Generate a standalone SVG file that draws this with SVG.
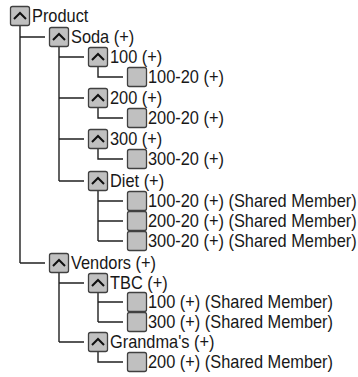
<svg xmlns="http://www.w3.org/2000/svg" width="358" height="377" viewBox="0 0 358 377">
<defs>
<style>
.bg{fill:#ffffff}
.ex{fill:#c0c0c0;stroke:#404040;stroke-width:1.3}
.lf{fill:#c0c0c0;stroke:#404040;stroke-width:1.3}
.chev{fill:none;stroke:#101010;stroke-width:2}
.ln{fill:none;stroke:#202020;stroke-width:1.4}
text{font-family:"Liberation Sans",Arial,sans-serif;font-size:18px;fill:#181818;dominant-baseline:central;transform-box:fill-box;transform-origin:0 50%;transform:scaleX(0.91)}
</style>
<g id="expander">
<rect class="ex" x="0.5" y="0.5" width="19" height="19" rx="2"/>
<polyline class="chev" points="4,13 10,7 16,13"/>
</g>
<rect id="leafbox" class="lf" x="0.5" y="0.5" width="19" height="19" rx="2"/>
</defs>
<rect class="bg" x="0" y="0" width="358" height="377"/>
<g id="connectors">
<path class="ln" d="M20,26 V263 M20,37 H45 M20,263 H45"/>
<path class="ln" d="M59,47 V181 M59,57 H84 M59,98 H84 M59,139 H84 M59,181 H84"/>
<path class="ln" d="M98,67 V77 H123"/>
<path class="ln" d="M98,108 V118 H123"/>
<path class="ln" d="M98,149 V159 H123"/>
<path class="ln" d="M98,191 V241 M98,201 H123 M98,221 H123 M98,241 H123"/>
<path class="ln" d="M59,273 V342 M59,283 H84 M59,342 H84"/>
<path class="ln" d="M98,293 V322 M98,302 H123 M98,322 H123"/>
<path class="ln" d="M98,352 V362 H123"/>
</g>
<g id="n-product"><use href="#expander" x="10" y="6"/><text x="32" y="16">Product</text></g>
<g id="n-soda"><use href="#expander" x="49" y="27"/><text x="71" y="37">Soda (+)</text></g>
<g id="n-100"><use href="#expander" x="88" y="47"/><text x="110" y="57">100 (+)</text></g>
<g id="n-100-20"><use href="#leafbox" x="127" y="67"/><text x="148" y="77">100-20 (+)</text></g>
<g id="n-200"><use href="#expander" x="88" y="88"/><text x="110" y="98">200 (+)</text></g>
<g id="n-200-20"><use href="#leafbox" x="127" y="108"/><text x="148" y="118">200-20 (+)</text></g>
<g id="n-300"><use href="#expander" x="88" y="129"/><text x="110" y="139">300 (+)</text></g>
<g id="n-300-20"><use href="#leafbox" x="127" y="149"/><text x="148" y="159">300-20 (+)</text></g>
<g id="n-diet"><use href="#expander" x="88" y="171"/><text x="110" y="181">Diet (+)</text></g>
<g id="n-diet-100-20"><use href="#leafbox" x="127" y="191"/><text x="148" y="201">100-20 (+) (Shared Member)</text></g>
<g id="n-diet-200-20"><use href="#leafbox" x="127" y="211"/><text x="148" y="221">200-20 (+) (Shared Member)</text></g>
<g id="n-diet-300-20"><use href="#leafbox" x="127" y="231"/><text x="148" y="241">300-20 (+) (Shared Member)</text></g>
<g id="n-vendors"><use href="#expander" x="49" y="253"/><text x="71" y="263">Vendors (+)</text></g>
<g id="n-tbc"><use href="#expander" x="88" y="273"/><text x="110" y="283">TBC (+)</text></g>
<g id="n-tbc-100"><use href="#leafbox" x="127" y="292"/><text x="148" y="302">100 (+) (Shared Member)</text></g>
<g id="n-tbc-300"><use href="#leafbox" x="127" y="312"/><text x="148" y="322">300 (+) (Shared Member)</text></g>
<g id="n-grandmas"><use href="#expander" x="88" y="332"/><text x="110" y="342">Grandma's (+)</text></g>
<g id="n-grandmas-200"><use href="#leafbox" x="127" y="352"/><text x="148" y="362">200 (+) (Shared Member)</text></g>
</svg>
